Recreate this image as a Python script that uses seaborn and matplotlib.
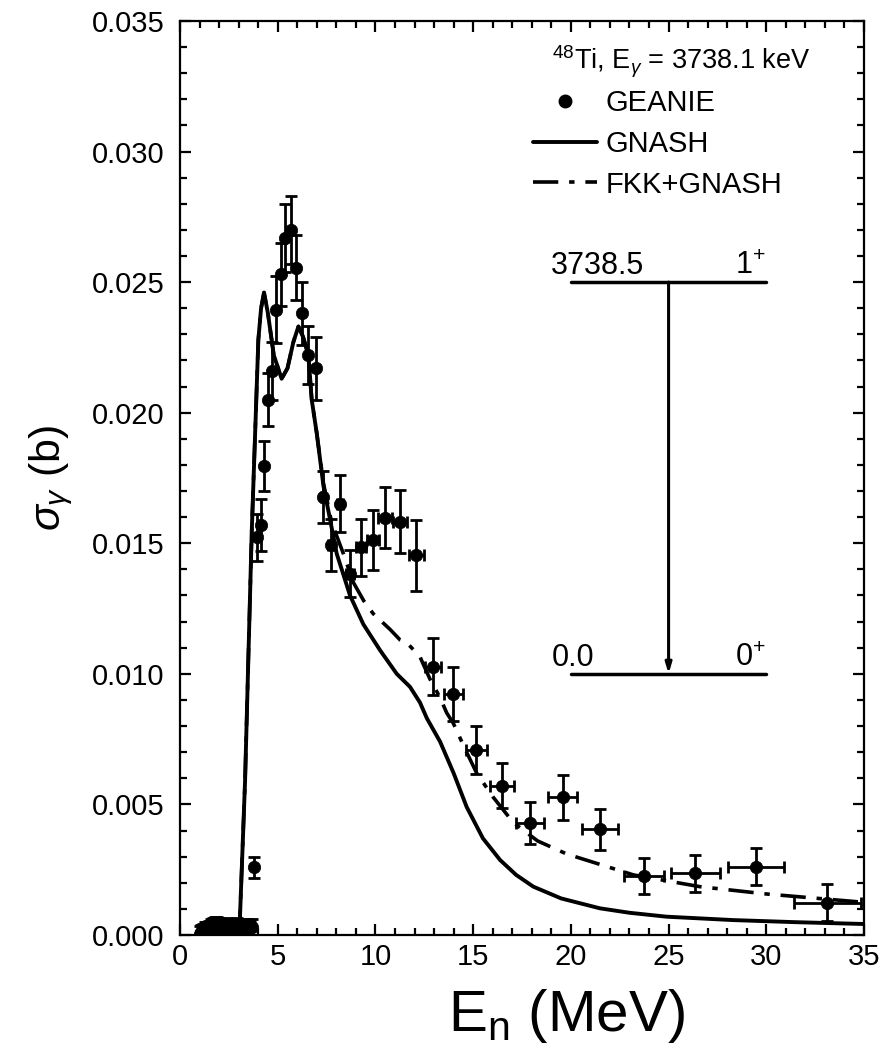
import numpy as np
import pandas as pd
import matplotlib
matplotlib.use("Agg")
import matplotlib.pyplot as plt
from matplotlib.lines import Line2D
import seaborn as sns

# ---------------- data ----------------
# GEANIE measured points
geanie_x = [1.0, 1.1, 1.2, 1.3, 1.4, 1.5, 1.6, 1.7, 1.8, 1.9, 2.0, 2.1, 2.2, 2.3,
            2.4, 2.5, 2.6, 2.7, 2.8, 2.9, 3.0, 3.1, 3.2, 3.3, 3.4, 3.5, 3.6, 3.7,
            3.79, 3.96, 4.13, 4.32, 4.52, 4.69, 4.91, 5.15, 5.37, 5.66, 5.94, 6.24,
            6.57, 6.96, 7.34, 7.71, 8.19, 8.70, 9.25, 9.86, 10.49, 11.26, 12.08,
            12.96, 13.99, 15.15, 16.46, 17.91, 19.58, 21.49, 23.76, 26.37, 29.48, 33.13]
geanie_y = [0.00005, 0.0001, 0.00012, 0.00018, 0.0002, 0.00025, 0.0003, 0.00035, 0.0004,
            0.00038, 0.00035, 0.0003, 0.00032, 0.0003, 0.00035, 0.0003, 0.00028, 0.00032,
            0.0003, 0.00035, 0.0003, 0.00028, 0.00032, 0.0003, 0.00033, 0.0003, 0.00025,
            0.0003,
            0.0026, 0.01523, 0.0157, 0.01796, 0.0205, 0.0216, 0.02395, 0.0253, 0.0267,
            0.0270, 0.02555, 0.0238, 0.0222, 0.0217, 0.01678, 0.01493, 0.01652, 0.01384,
            0.01484, 0.01512, 0.01598, 0.01583, 0.01454, 0.01027, 0.00923, 0.00708,
            0.00572, 0.00428, 0.00527, 0.00405, 0.00226, 0.00236, 0.00262, 0.00124]
geanie_yerr = [0.0003] * 28 + [
            0.0004, 0.0009, 0.001, 0.00097, 0.001, 0.0011, 0.0013, 0.0012, 0.0013,
            0.0013, 0.00125, 0.0012, 0.0011, 0.0012, 0.001, 0.001, 0.0011, 0.0009,
            0.0011, 0.00115, 0.00116, 0.0012, 0.00136, 0.0011, 0.00105, 0.00092,
            0.00086, 0.0008, 0.00086, 0.00078, 0.0007, 0.0007, 0.0007, 0.0007]
geanie_xerr = [0.0] * 28 + [
            0.0, 0.0, 0.0, 0.0, 0.0, 0.0, 0.0, 0.0, 0.0, 0.0, 0.0, 0.0, 0.0, 0.0,
            0.1, 0.15, 0.15, 0.2, 0.25, 0.3, 0.34, 0.35, 0.38, 0.4, 0.48, 0.54,
            0.61, 0.72, 0.73, 0.94, 1.03, 1.24, 1.43, 1.69]

# GNASH calculation
gnash_x = [3.0, 3.07, 3.33, 3.67, 4.01, 4.15, 4.3, 4.5, 4.8, 5.2, 5.5, 5.8, 6.06,
           6.3, 6.57, 6.74, 7.0, 7.34, 7.76, 8.02, 8.7, 9.38, 10.24, 11.09, 11.77,
           12.28, 12.63, 13.31, 14.0, 14.67, 15.5, 16.38, 17.2, 18.08, 19.5, 21.49,
           23.0, 24.9, 28.3, 31.5, 35.0]
gnash_y = [0.0, 0.0007, 0.0059, 0.0154, 0.0228, 0.0240, 0.0246, 0.0238, 0.0222,
           0.0213, 0.0217, 0.0227, 0.0233, 0.0229, 0.0222, 0.0205, 0.0192, 0.0172,
           0.0156, 0.0146, 0.0130, 0.0119, 0.0109, 0.0100, 0.0095, 0.0089, 0.0083,
           0.0074, 0.0062, 0.0049, 0.0037, 0.00287, 0.0023, 0.00185, 0.0014, 0.00102,
           0.00085, 0.0007, 0.00057, 0.00049, 0.00042]

# FKK+GNASH calculation
fkk_x = [3.0, 3.07, 3.33, 3.67, 4.01, 4.15, 4.3, 4.5, 4.8, 5.2, 5.5, 5.8, 6.06,
         6.3, 6.57, 6.74, 7.0, 7.34, 7.76, 8.36, 8.87, 9.4, 9.89, 10.75, 11.26,
         11.6, 12.28, 12.79, 13.3, 13.65, 13.99, 14.6, 15.18, 16.0, 17.06, 18.3,
         19.79, 21.5, 23.2, 26.6, 30.0, 35.0]
fkk_y = [0.0, 0.0007, 0.0059, 0.0154, 0.0228, 0.0240, 0.0246, 0.0238, 0.0222,
         0.0213, 0.0217, 0.0227, 0.0233, 0.0229, 0.0222, 0.0205, 0.0192, 0.0173,
         0.0158, 0.0146, 0.0135, 0.0128, 0.0123, 0.0117, 0.0113, 0.0112, 0.01065,
         0.0098, 0.0091, 0.0085, 0.0081, 0.0071, 0.0062, 0.0053, 0.0043, 0.0036,
         0.0031, 0.0027, 0.0023, 0.00185, 0.00157, 0.00125]

# level scheme
level_labels = ["3738.5", "0.0"]
level_spins = ["1$^{+}$", "0$^{+}$"]
level_y = [0.025, 0.010]
level_x = [20, 30]

# ---------------- style ----------------
sns.set_style("ticks")
plt.rcParams['font.family'] = ['Liberation Sans', 'DejaVu Sans']
plt.rcParams['mathtext.fontset'] = 'custom'
plt.rcParams['mathtext.rm'] = 'Liberation Sans'
plt.rcParams['mathtext.it'] = 'Liberation Sans:italic'
plt.rcParams['mathtext.bf'] = 'Liberation Sans:bold'
plt.rcParams['text.color'] = 'black'
plt.rcParams['axes.labelcolor'] = 'black'
plt.rcParams['xtick.color'] = 'black'
plt.rcParams['ytick.color'] = 'black'

fig = plt.figure(figsize=(8.84, 10.47), dpi=100)
ax = fig.add_axes([0.2036, 0.107, 0.7738, 0.873])

df_g = pd.DataFrame({"x": gnash_x, "y": gnash_y})
df_f = pd.DataFrame({"x": fkk_x, "y": fkk_y})
df_d = pd.DataFrame({"x": geanie_x, "y": geanie_y})

sns.lineplot(data=df_f, x="x", y="y", ax=ax, color="black", lw=2.6,
             sort=False, estimator=None)
ax.lines[-1].set_dashes([7, 3, 1.5, 3])
sns.lineplot(data=df_g, x="x", y="y", ax=ax, color="black", lw=2.8,
             sort=False, estimator=None)

ax.errorbar(geanie_x, geanie_y, yerr=geanie_yerr, xerr=geanie_xerr,
            fmt="none", ecolor="black", elinewidth=2, capsize=4, capthick=2)
sns.scatterplot(data=df_d, x="x", y="y", ax=ax, color="black", s=80,
                edgecolor="black", linewidth=0.5, zorder=5)

# level scheme
for ly, lab, sp in zip(level_y, level_labels, level_spins):
    ax.plot(level_x, [ly, ly], color="black", lw=2.5)
    ax.text(level_x[0] - 1.0, ly + 0.00005, lab, fontsize=22, ha="left", va="bottom")
    ax.text(level_x[1] - 0.05, ly + 0.00005, sp, fontsize=22, ha="right", va="bottom")
ax.annotate("", xy=(25, level_y[1]), xytext=(25, level_y[0]),
            arrowprops=dict(arrowstyle="-|>,head_length=0.6,head_width=0.18",
                            color="black", lw=2.2, shrinkA=0, shrinkB=0))

# axes
ax.set_xlim(0, 35)
ax.set_ylim(0, 0.035)
ax.set_xticks(np.arange(0, 36, 5))
ax.set_xticks(np.arange(0, 36, 1), minor=True)
ax.set_yticks(np.arange(0, 0.0351, 0.005))
ax.set_yticks(np.arange(0, 0.0351, 0.001), minor=True)
ax.set_yticklabels([f"{v:.3f}" for v in np.arange(0, 0.0351, 0.005)])
ax.tick_params(which="both", direction="in", top=True, right=True, width=1.6,
               labelsize=21, colors="black")
ax.tick_params(axis="y", which="major", pad=11)
ax.tick_params(axis="x", which="major", pad=6)
ax.tick_params(which="major", length=8)
ax.tick_params(which="minor", length=5)
for s in ax.spines.values():
    s.set_linewidth(1.6)
    s.set_color("black")

ax.set_xlabel(r"E$_\mathregular{n}$ (MeV)", fontsize=42)
ax.xaxis.set_label_coords(0.565, -0.057)
ax.set_ylabel(r"$\sigma_\gamma$ (b)", fontsize=31, labelpad=12)

# legend
ax.text(0.921, 0.955, r"$^{48}$Ti, E$_\gamma$ = 3738.1 keV", transform=ax.transAxes,
        fontsize=19.5, ha="right", va="center")
handles = [Line2D([], [], marker="o", ls="none", color="black", markersize=9),
           Line2D([], [], color="black", lw=2.8),
           Line2D([], [], color="black", lw=2.6, dashes=[7, 3, 1.5, 3])]
leg = ax.legend(handles, ["GEANIE", "GNASH", "FKK+GNASH"],
                loc="upper left", bbox_to_anchor=(0.516, 0.925), frameon=False,
                fontsize=21, handlelength=2.2, handletextpad=0.3,
                labelspacing=0.43, borderaxespad=0, borderpad=0)

fig.savefig("out.png", dpi=100)
